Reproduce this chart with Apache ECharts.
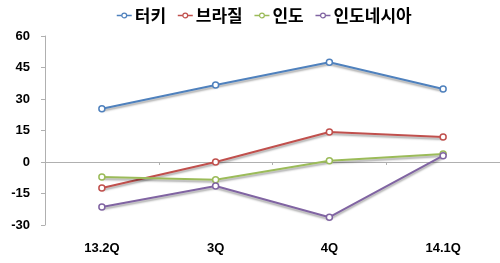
<!DOCTYPE html>
<html><head><meta charset="utf-8">
<script src="https://cdn.jsdelivr.net/npm/echarts@6/dist/echarts.min.js"></script>
<style>html,body{margin:0;padding:0;background:#fff}#c{width:500px;height:263px}</style>
</head><body><div id="c"></div>
<script>
const categories = ['13.2Q', '3Q', '4Q', '14.1Q'];
const seriesNames = ['터키', '브라질', '인도', '인도네시아'];
const turkey = [25.4, 36.7, 47.5, 34.8];
const brazil = [-12.4, 0, 14.3, 11.9];
const india = [-7.1, -8.4, 0.6, 3.8];
const indonesia = [-21.4, -11.4, -26.3, 3.0];
const yTicks = [-30, -15, 0, 15, 30, 45, 60];
const colors = ['#4F81BD', '#C0504D', '#9BBB59', '#8064A2'];
const allData = [turkey, brazil, india, indonesia];

const chart = echarts.init(document.getElementById('c'));
const font = '"Noto Sans CJK KR", "Liberation Sans", sans-serif';
chart.setOption({
  animation: false,
  textStyle: { fontFamily: font },
  legend: {
    top: 2, left: 111,
    itemWidth: 15, itemHeight: 6, itemGap: 11,
    textStyle: { fontSize: 17, fontWeight: 'bold', color: '#000', fontFamily: font, padding: [0, 0, 0, -2] },
    data: seriesNames.map((n, i) => ({
      name: n,
      itemStyle: { color: '#fff', borderColor: colors[i], borderWidth: 1.2 },
      lineStyle: { color: colors[i], width: 1.5 }
    }))
  },
  grid: { left: 45, top: 36, width: 464, height: 189, containLabel: false },
  xAxis: [{
    type: 'category', data: categories, position: 'bottom',
    axisLine: { show: false, onZero: false }, axisTick: { show: false },
    axisLabel: { color: '#000', fontWeight: 'bold', fontSize: 13, margin: 17, fontFamily: 'Liberation Sans, sans-serif' }
  }, {
    type: 'category', data: categories, position: 'bottom',
    axisLine: { show: true, onZero: true, lineStyle: { color: '#b0b0b0', width: 1 } },
    axisTick: { show: true, length: 3, lineStyle: { color: '#b0b0b0' } },
    axisLabel: { show: false }
  }],
  yAxis: {
    type: 'value', min: yTicks[0], max: yTicks[yTicks.length - 1], interval: 15,
    axisLine: { show: true, lineStyle: { color: '#b0b0b0' } },
    axisTick: { show: true, length: 4, lineStyle: { color: '#b0b0b0' } },
    splitLine: { show: false },
    axisLabel: { color: '#000', fontWeight: 'bold', fontSize: 13, margin: 15, fontFamily: 'Liberation Sans, sans-serif' }
  },
  series: seriesNames.map((n, i) => ({
    name: n, type: 'line', data: allData[i], xAxisIndex: 0,
    symbol: 'circle', symbolSize: 6,
    itemStyle: { color: '#fff', borderColor: colors[i], borderWidth: 1.5 },
    lineStyle: { color: colors[i], width: 2, shadowColor: 'rgba(0,0,0,0.35)', shadowBlur: 2, shadowOffsetY: 2 },
    emphasis: { disabled: true }
  }))
});
</script></body></html>
